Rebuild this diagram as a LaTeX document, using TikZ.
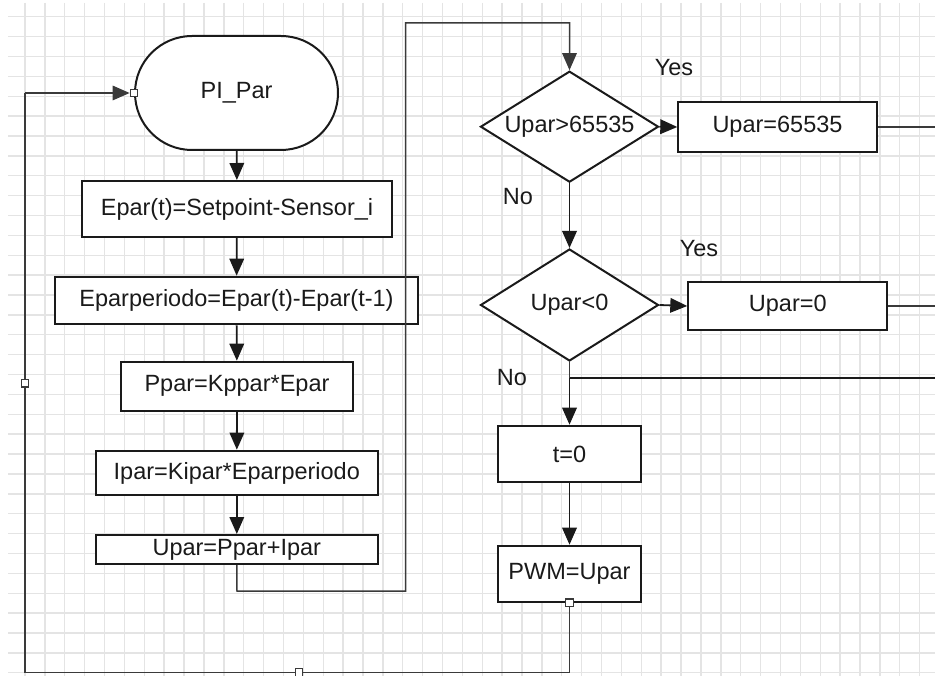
\documentclass[tikz,border=0pt]{standalone}
\usepackage{fontspec}
\setmainfont{Liberation Sans}
\usetikzlibrary{arrows.meta,shapes.geometric,shapes.misc}
\definecolor{gridgray}{HTML}{E4E4E4}
\definecolor{ink}{HTML}{1A1A1A}
\definecolor{wire}{HTML}{3A3A3A}
\begin{document}
\begin{tikzpicture}[x=1pt,y=-1pt,
  every node/.style={font=\fontsize{23.5}{27}\selectfont, text=ink},
  gridline/.style={draw=gridgray, line width=1.4pt},
  stepbox/.style={rectangle, draw=ink, line width=2pt, fill=white, inner sep=0pt},
  decision/.style={diamond, aspect=1.6, draw=ink, line width=2pt, fill=white, inner sep=0pt,
    minimum width=178pt, minimum height=111pt},
  terminal/.style={rounded rectangle, draw=ink, line width=2pt, fill=white, inner sep=0pt,
    minimum width=203pt, minimum height=114pt},
  port/.style={rectangle, draw=wire, line width=1.2pt, fill=white, inner sep=0pt, minimum size=7.5pt},
  tip/.style={-{Triangle[length=17pt,width=14.5pt]}},
  flow/.style={draw=ink, line width=1.8pt, tip},
  wire/.style={draw=wire, line width=1.5pt},
  lbl/.style={inner sep=0pt}
]
\useasboundingbox (0,0) rectangle (935,676);
\fill[white] (0,0) rectangle (935,676);

% background grid
\foreach \k in {0,...,45}
  \draw[gridline] ({25+19.88*\k},3) -- ({25+19.88*\k},676);
\foreach \k in {0,...,33}
  \draw[gridline] (8,{16.7+19.88*\k}) -- (935,{16.7+19.88*\k});

% left column
\node[terminal] (start) at (236.5,93) {PI\_Par};
\node[stepbox, minimum width=310pt, minimum height=56pt] (err) at (237,209) {Epar(t)=Setpoint-Sensor\_i};
\node[stepbox, minimum width=363pt, minimum height=47.6pt] (derr) at (236.5,300.5) {Eparperiodo=Epar(t)-Epar(t-1)};
\node[stepbox, minimum width=232.6pt, minimum height=49pt] (pterm) at (237,386.2) {Ppar=Kppar*Epar};
\node[stepbox, minimum width=281.7pt, minimum height=44.6pt] (iterm) at (236.8,473) {Ipar=Kipar*Eparperiodo};
\node[stepbox, minimum width=281.7pt, minimum height=29pt] (usum) at (236.8,549.5) {Upar=Ppar+Ipar};

% right column
\node[decision] (dmax) at (569.5,126.7) {Upar>65535};
\node[stepbox, minimum width=198.4pt, minimum height=49.4pt] (smax) at (777.5,127) {Upar=65535};
\node[decision, minimum height=112pt] (dmin) at (569.5,305) {Upar<0};
\node[stepbox, minimum width=199pt, minimum height=48.3pt] (smin) at (787.8,306) {Upar=0};
\node[stepbox, minimum width=143.7pt, minimum height=56.6pt] (reset) at (569.5,454) {t=0};
\node[stepbox, minimum width=143.7pt, minimum height=56pt] (pwm) at (569.5,573.7) {PWM=Upar};

% branch labels
\node[lbl] (yes1) at (674,68) {Yes};
\node[lbl] (no1) at (518,197) {No};
\node[lbl] (yes2) at (699,249) {Yes};
\node[lbl] (no2) at (512,377.5) {No};

% routing points
\coordinate (u1) at (237,591);
\coordinate (u2) at (405.7,591);
\coordinate (u3) at (405.7,23);
\coordinate (u4) at (569.5,23);
\coordinate (e1) at (935,127);
\coordinate (e2) at (935,306);
\coordinate (e3) at (935,378.3);
\coordinate (j1) at (569.5,378.3);
\coordinate (l1) at (569.5,672.5);
\coordinate (l2) at (25,672.5);
\coordinate (l3) at (25,93);

% sequential flow
\draw[flow] (start) -- (err);
\draw[flow] (err) -- (derr);
\draw[flow] (derr) -- (pterm);
\draw[flow] (pterm) -- (iterm);
\draw[flow] (iterm) -- (usum);
\draw[wire, tip] (usum.south) -- (u1) -- (u2) -- (u3) -- (u4) -- (dmax.north);

\draw[flow] (dmax.east) -- (smax.west);
\draw[flow] (dmax.south) -- (dmin.north);
\draw[flow] (dmin.east) -- (smin.west);
\draw[wire] (dmin.south) -- (j1);
\draw[flow] (j1) -- (reset.north);
\draw[flow] (reset) -- (pwm);

\draw[wire] (smax.east) -- (e1);
\draw[wire] (smin.east) -- (e2);
\draw[draw=ink, line width=1.8pt] (e3) -- (j1);

% return loop
\node[port] (pout) at (pwm.south) {};
\node[port] (pin) at (start.west) {};
\draw[wire] (pout.south) -- (l1) -- (l2) -- (l3);
\draw[wire, tip] (l3) -- (pin.west);
\node[port] (m1) at (25,383.3) {};
\node[port] (m2) at (299,672.5) {};
\end{tikzpicture}
\end{document}
